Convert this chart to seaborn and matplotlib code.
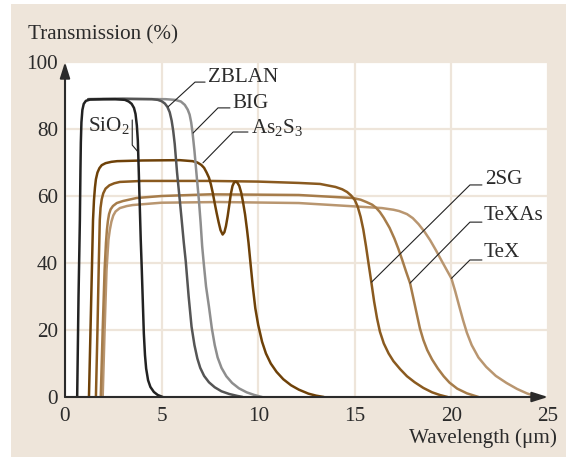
import numpy as np
import pandas as pd
import matplotlib
matplotlib.use("Agg")
import matplotlib.pyplot as plt
import seaborn as sns
from matplotlib.patches import Rectangle

# ------------------------------------------------------------
# Transmission curves (wavelength um, %)
# ------------------------------------------------------------
sio2_x = [0.63, 0.70, 0.77, 0.80, 0.82, 0.85, 0.90, 0.97, 1.08, 1.3, 2.0, 2.6, 3.1, 3.3, 3.45,
          3.57, 3.65, 3.72, 3.77, 3.82, 3.87, 3.92, 3.97, 4.03, 4.08, 4.14, 4.2, 4.3, 4.42,
          4.6, 4.8, 5.06]
sio2_y = [0, 30, 52.8, 68, 76, 82, 85.7, 87.5, 88.4, 88.8, 88.9, 88.9, 88.7, 88.2, 87.5,
          86.3, 84.5, 81, 76.5, 67, 57, 47, 38.8, 28, 19, 12.5, 8.5, 5, 3, 1.5, 0.6, 0]

zblan_x = [1.2, 3.0, 4.5, 4.8, 5.0, 5.17, 5.3, 5.42, 5.52, 5.6, 5.68, 5.8, 5.94, 6.04, 6.15,
           6.25, 6.4, 6.55, 6.7, 6.85, 7.0, 7.2, 7.45, 7.75, 8.1, 8.5, 8.9, 9.2]
zblan_y = [88.9, 89.0, 88.9, 88.7, 88.3, 87.6, 86.6, 85.0, 82.5, 79.5, 75.5, 67, 58.8, 52.8, 46,
           40.5, 30, 21, 15.5, 11.5, 8.7, 6.3, 4.4, 2.9, 1.7, 0.9, 0.35, 0]

big_x = [1.2, 3.0, 5.2, 5.7, 6.0, 6.2, 6.35, 6.45, 6.53, 6.6, 6.7, 6.8, 6.93, 7.02, 7.1, 7.18,
         7.3, 7.45, 7.6, 7.75, 7.9, 8.1, 8.35, 8.65, 9.0, 9.4, 9.8, 10.2]
big_y = [88.9, 89.0, 88.9, 88.7, 88.2, 87.2, 85.8, 84.3, 82, 79, 73.5, 67, 58.8, 52, 45, 40,
         33, 27, 20.5, 15.5, 11.8, 8.7, 6.2, 4.2, 2.6, 1.4, 0.6, 0]

as2s3_x = [1.24, 1.32, 1.40, 1.45, 1.5, 1.55, 1.6, 1.68, 1.78, 1.9, 2.1, 2.4, 2.7, 4.0, 5.94,
           6.6, 6.85, 7.05, 7.2, 7.33, 7.45, 7.55, 7.65, 7.75, 7.85, 7.95, 8.05, 8.16, 8.25,
           8.33, 8.42, 8.5, 8.58, 8.67, 8.75, 8.83, 8.92, 9.02, 9.12, 9.22, 9.32, 9.42, 9.5,
           9.6, 9.72, 9.85, 10.0, 10.2, 10.4, 10.65, 10.95, 11.3, 11.7, 12.1, 12.6, 13.0, 13.4]
as2s3_y = [0, 20, 40, 52.8, 58.8, 62.5, 65, 67, 68.3, 69.2, 69.8, 70.2, 70.4, 70.6, 70.7,
           70.4, 70.0, 69.3, 68.4, 67.0, 65.5, 63.5, 60.9, 57.8, 54.9, 52.2, 49.8, 48.5, 49.2,
           51, 54, 57.2, 60.5, 63, 64, 64.3, 64, 63, 61, 58, 54.5, 50, 46,
           40, 33, 26.5, 21.5, 16.5, 13, 10, 7.5, 5.3, 3.5, 2.2, 1.0, 0.4, 0]

sg_x = [1.6, 1.68, 1.75, 1.8, 1.84, 1.9, 1.98, 2.1, 2.3, 2.55, 2.84, 4.0, 7.5, 10.0, 12.1,
        13.2, 14.0, 14.35, 14.6, 14.8, 15.0, 15.15, 15.3, 15.44, 15.58, 15.72, 15.85, 16.0,
        16.15, 16.3, 16.5, 16.75, 17.0, 17.35, 17.7, 18.1, 18.55, 19.0, 19.4, 19.8]
sg_y = [0, 20, 40, 52.8, 56.5, 59, 60.8, 62.2, 63.2, 63.8, 64.2, 64.5, 64.5, 64.3, 63.9,
        63.6, 62.7, 62.0, 61.2, 60.2, 58.8, 56.8, 53.8, 50, 45, 39.5, 34.5, 28.5,
        23.5, 19.5, 16, 13, 10.7, 8.3, 6.2, 4.4, 2.7, 1.4, 0.6, 0]

texas_x = [1.85, 1.95, 2.05, 2.12, 2.17, 2.22, 2.28, 2.36, 2.48, 2.68, 3.0, 3.7, 5.0, 7.5,
           10.0, 12.1, 14.9, 15.3, 15.6, 15.9, 16.1, 16.3, 16.5, 16.8, 17.05, 17.25, 17.45,
           17.65, 17.86, 18.05, 18.2, 18.37, 18.55, 18.75, 19.0, 19.3, 19.6, 19.9, 20.3, 20.8, 21.4]
texas_y = [0, 20, 38, 46, 49.9, 52.5, 54.6, 56.0, 57.0, 57.9, 58.5, 59.4, 60.0, 60.5,
           60.4, 60.3, 59.4, 58.9, 58.2, 57.4, 56.5, 55.2, 53.5, 50.5, 47.3, 44.3, 41,
           37.5, 34, 29, 25, 20.5, 17, 14, 11.2, 8.5, 6.2, 4.3, 2.5, 1.1, 0]

tex_x = [1.95, 2.05, 2.15, 2.25, 2.32, 2.4, 2.5, 2.62, 2.84, 3.2, 3.5, 5.0, 8.0, 12.1, 14.7,
         16.4, 17.0, 17.3, 17.7, 18.0, 18.3, 18.6, 18.9, 19.2, 19.5, 19.75, 20.0, 20.2, 20.4,
         20.6, 20.8, 21.05, 21.4, 21.8, 22.3, 22.85, 23.4, 23.9, 24.3]
tex_y = [0, 20, 38, 47, 49.9, 52.3, 54.2, 55.4, 56.4, 57.0, 57.3, 58.0, 58.2, 57.9, 57.0,
         56.4, 55.9, 55.5, 54.6, 53.4, 51.6, 49.4, 46.8, 43.8, 40.6, 38, 35.4, 31.5, 27.2,
         23, 19.2, 15.5, 11.8, 9, 6.3, 4.2, 2.4, 1.1, 0.3]

glasses = ["TeX", "TeXAs", "2SG", "As2S3", "BIG", "ZBLAN", "SiO2"]
colors = {"SiO2": "#222222", "ZBLAN": "#555555", "BIG": "#8e8e8e", "As2S3": "#6e4108",
          "2SG": "#8a5a1f", "TeXAs": "#a67c4a", "TeX": "#b99670"}

curves = {"SiO2": (sio2_x, sio2_y), "ZBLAN": (zblan_x, zblan_y), "BIG": (big_x, big_y),
          "As2S3": (as2s3_x, as2s3_y), "2SG": (sg_x, sg_y), "TeXAs": (texas_x, texas_y),
          "TeX": (tex_x, tex_y)}
df = pd.concat([pd.DataFrame({"wl": xs, "T": ys, "glass": g}) for g, (xs, ys) in curves.items()],
               ignore_index=True)

x_ticks = [0, 5, 10, 15, 20, 25]
y_ticks = [0, 20, 40, 60, 80, 100]

# ------------------------------------------------------------
# Style
# ------------------------------------------------------------
sns.set_theme(style="white")
plt.rcParams["font.family"] = ["Liberation Serif", "DejaVu Serif"]
plt.rcParams["mathtext.fontset"] = "custom"
plt.rcParams["mathtext.rm"] = "Liberation Serif"
plt.rcParams["mathtext.it"] = "Liberation Serif:italic"

beige = "#eee5da"
ink = "#2b2b2b"
fs = 15.2

fig = plt.figure(figsize=(5.66, 4.57), dpi=100, facecolor="white")
fig.patches.append(Rectangle((11 / 566, 0), 1, 453 / 457, transform=fig.transFigure,
                             facecolor=beige, edgecolor="none", zorder=-10))
ax = fig.add_axes([65 / 566, 60 / 457, 483 / 566, 335 / 457])
ax.set_facecolor("white")

sns.lineplot(data=df, x="wl", y="T", hue="glass", hue_order=glasses, palette=colors,
             sort=False, estimator=None, legend=False, lw=1.8, ax=ax)
for line in ax.get_lines():
    line.set_solid_joinstyle("round")
    line.set_solid_capstyle("round")

ax.set_xlim(0, 25)
ax.set_ylim(0, 100)
ax.set_xticks(x_ticks)
ax.set_yticks(y_ticks)
ax.grid(True, color=beige, lw=1.6)
ax.set_axisbelow(True)
for s in ax.spines.values():
    s.set_visible(False)
ax.tick_params(length=0, labelsize=fs, colors=ink)
ax.tick_params(axis="y", pad=5)
ax.tick_params(axis="x", pad=7)
ax.set_xlabel("")
ax.set_ylabel("")

# axis arrows
arrow = dict(arrowstyle="-|>,head_length=0.95,head_width=0.3", color=ink, lw=1.5,
             shrinkA=0, shrinkB=0, mutation_scale=10)
ax.annotate("", xy=(0, 1), xytext=(0, 0), xycoords="axes fraction", arrowprops=arrow,
            annotation_clip=False)
ax.annotate("", xy=(1, 0), xytext=(0, 0), xycoords="axes fraction", arrowprops=arrow,
            annotation_clip=False)

fig.text(28 / 566, 1 - 35 / 457, "Transmission (%)", fontsize=fs, color=ink, va="center")
fig.text(557 / 566, 1 - 438 / 457, "Wavelength (μm)", fontsize=fs, color=ink,
         va="center", ha="right")

# curve labels with leader lines
labels = [
    ("ZBLAN", (7.4, 95.5), [7.25, 6.73, 5.33], [94.0, 94.0, 86.6]),
    ("BIG", (8.64, 87.5), [8.54, 7.92, 6.63], [86.3, 86.3, 78.8]),
    ("As$_2$S$_3$", (9.63, 80.3), [9.47, 8.70, 7.14], [79.1, 79.1, 69.9]),
    ("SiO$_2$", (1.19, 80.9), [3.48, 3.48, 3.76], [82.7, 75.2, 73.3]),
    ("2SG", (21.74, 64.8), [21.58, 20.96, 15.87], [63.3, 63.3, 34.3]),
    ("TeXAs", (21.64, 54.3), [21.58, 20.96, 17.86], [52.2, 52.2, 34.0]),
    ("TeX", (21.64, 43.0), [21.58, 20.96, 20.0], [40.9, 40.9, 35.4]),
]
for text, (tx, ty), lx, ly in labels:
    ax.plot(lx, ly, color="#222222", lw=0.8, zorder=5)
    ax.text(tx, ty, text, fontsize=fs, color=ink, va="center", ha="left", zorder=6)

fig.savefig("out.png", dpi=100, facecolor=fig.get_facecolor())
